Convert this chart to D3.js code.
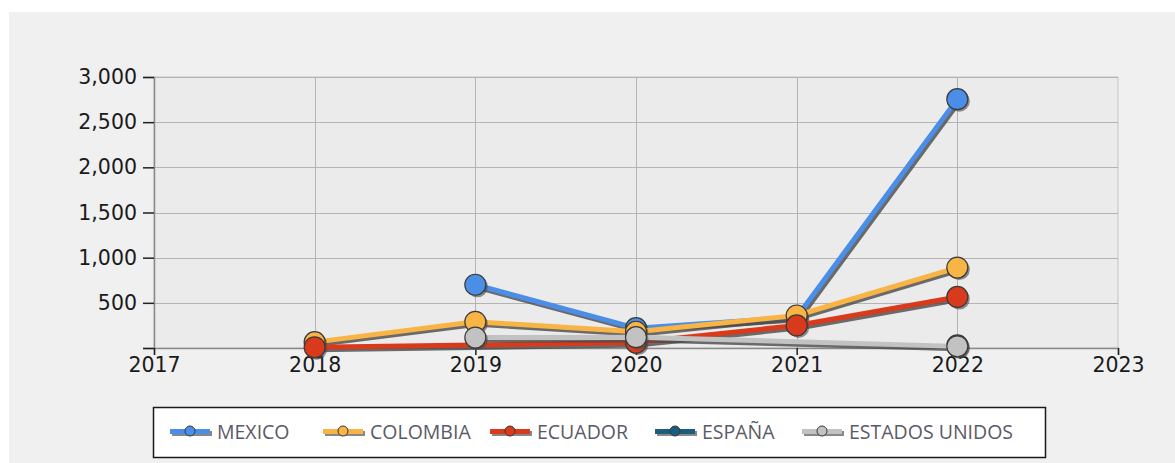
<!DOCTYPE html>
<html>
<head>
<meta charset="utf-8">
<script src="https://cdn.jsdelivr.net/npm/d3@7"></script>
<style>
  html, body { margin: 0; padding: 0; background: #ffffff; }
  svg { display: block; }
</style>
</head>
<body>
<svg id="chart" width="1175" height="463"></svg>
<script>
// ---- data ----
const years = [2018, 2019, 2020, 2021, 2022];
const seriesNames = ["MEXICO", "COLOMBIA", "ECUADOR", "ESPAÑA", "ESTADOS UNIDOS"];
const seriesColors = ["#4a8ee8", "#f8b445", "#d93a1b", "#1c5c7e", "#c2c2c2"];
const mexico = [null, 700, 220, 340, 2755];
const colombia = [65, 290, 180, 360, 890];
const ecuador = [8, null, 60, 250, 565];
const espana = [null, null, null, null, 30];
const estadosUnidos = [null, 115, 120, null, 18];
const yTicks = [0, 500, 1000, 1500, 2000, 2500, 3000];
const xTicks = [2017, 2018, 2019, 2020, 2021, 2022, 2023];

const seriesValues = [mexico, colombia, ecuador, espana, estadosUnidos];

const svg = d3.select("#chart");
const W = 1175, H = 463;

// backgrounds
svg.append("rect").attr("x", 0).attr("y", 0).attr("width", W).attr("height", H).attr("fill", "#ffffff");
svg.append("rect").attr("x", 9).attr("y", 12).attr("width", W - 9).attr("height", H - 12).attr("fill", "#f0f0f0");

const plot = { left: 154, right: 1118, top: 77, bottom: 348 };
const x = d3.scaleLinear().domain([2017, 2023]).range([plot.left, plot.right]);
const y = d3.scaleLinear().domain([0, 3000]).range([plot.bottom, plot.top]);

svg.append("rect")
  .attr("x", plot.left).attr("y", plot.top)
  .attr("width", plot.right - plot.left).attr("height", plot.bottom - plot.top)
  .attr("fill", "#ebebeb").attr("stroke", "#c4c4c4").attr("stroke-width", 1);

// grid
const grid = svg.append("g");
grid.selectAll("line.h").data(yTicks.slice(1)).join("line")
  .attr("x1", plot.left).attr("x2", plot.right)
  .attr("y1", d => Math.round(y(d)) + 0.5).attr("y2", d => Math.round(y(d)) + 0.5)
  .attr("stroke", "#b4b4b4").attr("stroke-width", 1);
grid.selectAll("line.v").data(xTicks.slice(1, -1)).join("line")
  .attr("y1", plot.top).attr("y2", plot.bottom)
  .attr("x1", d => Math.round(x(d)) + 0.5).attr("x2", d => Math.round(x(d)) + 0.5)
  .attr("stroke", "#b4b4b4").attr("stroke-width", 1);

// axes
const fmt = d3.format(",");
const yAxis = svg.append("g").attr("transform", `translate(${plot.left},0)`)
  .call(d3.axisLeft(y).tickValues(yTicks).tickSize(11).tickPadding(6)
    .tickFormat(d => d === 0 ? "" : fmt(d)));
const xAxis = svg.append("g").attr("transform", `translate(0,${plot.bottom})`)
  .call(d3.axisBottom(x).tickValues(xTicks).tickSize(7).tickPadding(2)
    .tickFormat(d3.format("d")));
[yAxis, xAxis].forEach(a => {
  a.select(".domain").attr("stroke", "#8a8a8a").attr("stroke-width", 1.5);
  a.selectAll(".tick line").attr("stroke", "#202020").attr("stroke-width", 1.5);
  a.selectAll("text").attr("fill", "#1a1a1a")
    .style("font-family", "'DejaVu Sans', sans-serif")
    .style("font-size", "20.5px");
});

// series
const line = d3.line()
  .x(d => x(d.year)).y(d => y(d.v));

const seriesG = svg.append("g");
seriesValues.forEach((vals, i) => {
  const pts = years.map((yr, j) => ({ year: yr, v: vals[j] })).filter(d => d.v !== null);
  const g = seriesG.append("g");
  g.append("path").datum(pts).attr("d", line)
    .attr("transform", "translate(2,2.5)")
    .attr("fill", "none").attr("stroke", "#4a4a4a").attr("stroke-opacity", 0.8)
    .attr("stroke-width", 5).attr("stroke-linejoin", "round");
  g.append("path").datum(pts).attr("d", line)
    .attr("fill", "none").attr("stroke", seriesColors[i])
    .attr("stroke-width", 5).attr("stroke-linejoin", "round");
  g.selectAll("circle.sh").data(pts).join("circle")
    .attr("cx", d => x(d.year) + 2).attr("cy", d => y(d.v) + 2).attr("r", 10.5)
    .attr("fill", "#4a4a4a").attr("fill-opacity", 0.6);
  g.selectAll("circle.m").data(pts).join("circle")
    .attr("cx", d => x(d.year)).attr("cy", d => y(d.v)).attr("r", 10.5)
    .attr("fill", seriesColors[i]).attr("stroke", "#3a3a3a").attr("stroke-width", 1.2);
});

// legend
const legend = svg.append("g");
legend.append("rect").attr("x", 153.5).attr("y", 407.5).attr("width", 892).attr("height", 50)
  .attr("fill", "#ffffff").attr("stroke", "#1a1a1a").attr("stroke-width", 1.5);
const legendX = [170, 323, 490, 655, 802];
seriesNames.forEach((name, i) => {
  const lx = legendX[i], ly = 432;
  const it = legend.append("g");
  it.append("rect").attr("x", lx + 2).attr("y", ly - 1).attr("width", 40).attr("height", 5).attr("fill", "#555").attr("opacity", 0.7);
  it.append("rect").attr("x", lx).attr("y", ly - 3).attr("width", 40).attr("height", 5).attr("fill", seriesColors[i]);
  it.append("circle").attr("cx", lx + 20).attr("cy", ly - 1).attr("r", 5)
    .attr("fill", seriesColors[i]).attr("stroke", "#3a3a3a").attr("stroke-width", 1);
  it.append("text").attr("x", lx + 47).attr("y", ly + 7).text(name)
    .attr("fill", "#5a5a66")
    .style("font-family", "'Open Sans', 'Noto Sans', sans-serif")
    .style("font-size", "19.5px");
});
</script>
</body>
</html>
